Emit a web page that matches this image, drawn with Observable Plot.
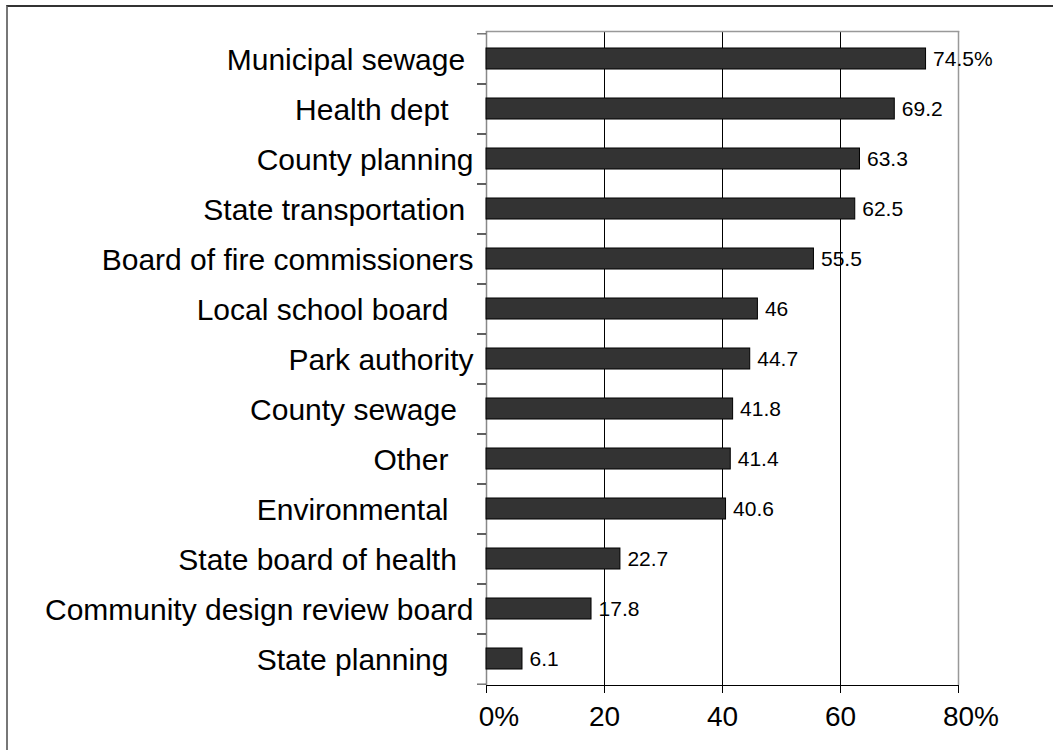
<!DOCTYPE html>
<html><head><meta charset="utf-8">
<script src="https://cdn.jsdelivr.net/npm/d3@7"></script>
<script src="https://cdn.jsdelivr.net/npm/@observablehq/plot@0.6"></script>
<style>
html,body{margin:0;padding:0;background:#fff;}
body{overflow:hidden;width:1053px;height:750px;position:relative;}
#chart{position:absolute;left:0;top:0;}
#border{position:absolute;left:6px;top:5px;width:1200px;height:900px;border-top:2px solid #333;border-left:2px solid #777;}
svg text{white-space:pre;}
</style></head><body>
<div id="border"></div>
<div id="chart"></div>
<script>
const categories = [
  "Municipal sewage ",
  "Health dept   ",
  "County planning",
  "State transportation ",
  "Board of fire commissioners",
  "Local school board   ",
  "Park authority",
  "County sewage  ",
  "Other   ",
  "Environmental   ",
  "State board of health  ",
  "Community design review board",
  "State planning   "
];
const values = [74.5, 69.2, 63.3, 62.5, 55.5, 46, 44.7, 41.8, 41.4, 40.6, 22.7, 17.8, 6.1];
const xTicks = [0, 20, 40, 60, 80];
const xTickLabels = ["0%", "20", "40", "60", "80%"];

const data = categories.map((c, i) => ({
  category: c,
  value: values[i],
  label: i === 0 ? values[i] + "%" : String(values[i])
}));

const W = 1053, H = 750, mt = 31, mb = 65, ml = 486, mr = 95;
const step = (H - mt - mb) / categories.length;
const fs = 30, tfs = 28;

const tickLabelMarks = xTicks.map((t, i) => {
  const digits = xTickLabels[i].replace("%", "").length;
  return Plot.text([i], {
    x: d => xTicks[d], text: d => xTickLabels[d],
    frameAnchor: "bottom", dy: 40, fontSize: tfs, textAnchor: "start",
    dx: -digits * 0.556 * tfs / 2, fill: "#000"
  });
});

const plot = Plot.plot({
  width: W, height: H,
  marginTop: mt, marginBottom: mb, marginLeft: ml, marginRight: mr,
  style: {fontFamily: "'Liberation Sans', Arial, sans-serif", background: "transparent", color: "#000", overflow: "visible"},
  x: {domain: [0, 80]},
  y: {domain: categories, paddingInner: 0.58, paddingOuter: 0.29},
  marks: [
    Plot.ruleX([20, 40, 60], {stroke: "#000", strokeWidth: 1}),
    Plot.ruleX([80], {stroke: "#999", strokeWidth: 1.5}),
    Plot.frame({anchor: "top", stroke: "#999", strokeWidth: 1.5}),
    Plot.ruleX([0], {stroke: "#888", strokeWidth: 1.5}),
    Plot.frame({anchor: "bottom", stroke: "#000", strokeWidth: 1}),
    Plot.axisY({tickSize: 9, tickFormat: () => "", dy: -step / 2, stroke: "#333", label: null}),
    Plot.axisY({tickSize: 9, tickFormat: () => "", dy: step / 2, stroke: "#333", label: null}),
    Plot.axisY({tickSize: 0, tickPadding: 13, fontSize: fs, fill: "#000", label: null, dy: 1}),
    Plot.axisX({ticks: xTicks, tickSize: 8, tickFormat: () => "", stroke: "#000", label: null}),
    Plot.barX(data, {x: "value", y: "category", fill: "#333333", stroke: "#000", strokeWidth: 1}),
    Plot.text(data, {x: "value", y: "category", text: "label", textAnchor: "start", dx: 7, fontSize: 21, fill: "#000"}),
    ...tickLabelMarks
  ]
});
document.getElementById("chart").appendChild(plot);
</script>
</body></html>
